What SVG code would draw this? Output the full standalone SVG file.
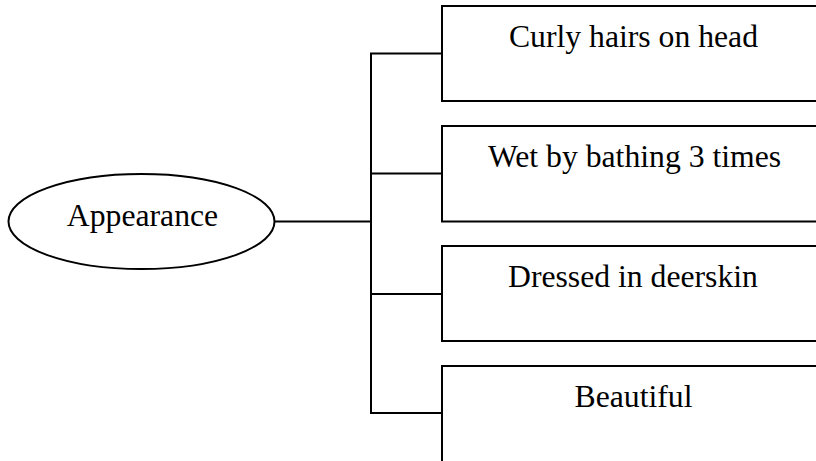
<svg xmlns="http://www.w3.org/2000/svg" width="816" height="461" viewBox="0 0 816 461">
  <style>
    .shape { fill: #fff; stroke: #000; stroke-width: 2; }
    .wire { fill: none; stroke: #000; stroke-width: 2; }
    .label { font-family: "Liberation Serif", "Times New Roman", serif; font-size: 31.7px; fill: #000; text-anchor: middle; }
  </style>
  <rect width="816" height="461" fill="#fff"/>
  <g id="connectors">
    <line class="wire" x1="275" y1="221.5" x2="371" y2="221.5"/>
    <polyline class="wire" points="442,53.5 371,53.5 371,413 442,413"/>
    <line class="wire" x1="371" y1="173.5" x2="442" y2="173.5"/>
    <line class="wire" x1="371" y1="294" x2="442" y2="294"/>
  </g>
  <g id="appearance">
    <ellipse class="shape" cx="141.5" cy="221.5" rx="133" ry="47.5"/>
    <text class="label" x="142.5" y="226">Appearance</text>
  </g>
  <g id="curly-hairs">
    <rect class="shape" x="442" y="6" width="400" height="95"/>
    <text class="label" x="633.5" y="47">Curly hairs on head</text>
  </g>
  <g id="wet-by-bathing">
    <rect class="shape" x="442" y="126" width="400" height="95.5"/>
    <text class="label" x="634.5" y="167">Wet by bathing 3 times</text>
  </g>
  <g id="dressed-in-deerskin">
    <rect class="shape" x="442" y="246" width="400" height="95"/>
    <text class="label" x="633" y="287">Dressed in deerskin</text>
  </g>
  <g id="beautiful">
    <rect class="shape" x="442" y="366" width="400" height="110"/>
    <text class="label" x="633.5" y="407">Beautiful</text>
  </g>
</svg>
